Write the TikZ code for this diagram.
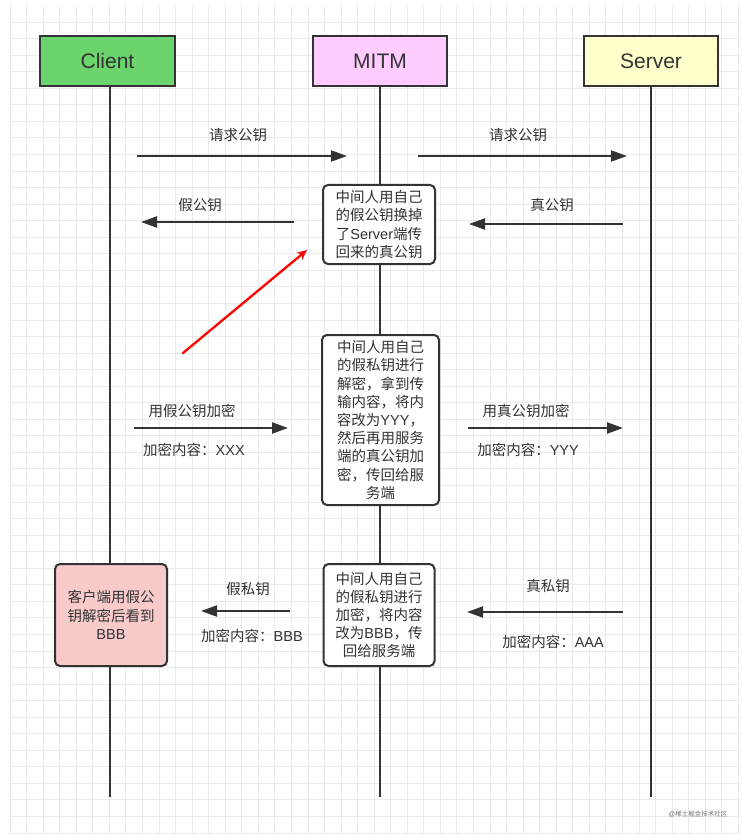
\documentclass[tikz,border=0pt]{standalone}
\usepackage{fontspec}
\setmainfont{Liberation Sans}
\newfontfamily\cjk{Noto Sans CJK SC}
\usetikzlibrary{arrows.meta}
\newcommand\lat[1]{{\rmfamily #1}}
\definecolor{ink}{HTML}{333333}
\definecolor{gridc}{HTML}{EBEBEB}
\definecolor{clientfill}{HTML}{6CD46C}
\definecolor{mitmfill}{HTML}{FFCCFF}
\definecolor{serverfill}{HTML}{FFFFCC}
\definecolor{notefill}{HTML}{F8CACA}
\tikzset{
  header/.style={draw=ink, line width=2pt, minimum width=134pt, minimum height=50pt,
    inner sep=0pt, text=ink, font=\fontsize{21}{25}\selectfont},
  process/.style={draw=ink, line width=2pt, rounded corners=5pt, fill=white,
    align=center, inner sep=0pt, text=ink, font=\cjk\fontsize{14.5}{18.2}\selectfont},
  lbl/.style={inner sep=0pt, text=ink, font=\cjk\fontsize{14.5}{18.2}\selectfont},
  lifeline/.style={draw=ink, line width=2.6pt},
  msg/.style={draw=ink, line width=2pt, -{Triangle[length=16pt, width=11pt]}},
  hint/.style={draw=red, line width=2.3pt, line cap=round, -{Stealth[length=10pt, width=9pt]}},
  gridline/.style={draw=gridc, line width=0.8pt}
}
\begin{document}
\begin{tikzpicture}[x=1pt, y=-1pt]
\useasboundingbox[fill=white] (0,0) rectangle (741,834);

% background grid
\foreach \i in {0,...,44} {
  \pgfmathsetmacro\gx{10+16.55*\i}
  \draw[gridline] (\gx,5) -- (\gx,834);
}
\foreach \k in {0,...,49} {
  \pgfmathsetmacro\gy{22+16.55*\k}
  \draw[gridline] (10,\gy) -- (741,\gy);
}

% participants
\node[header, fill=clientfill, minimum width=135pt] (client) at (107.5,61) {Client};
\node[header, fill=mitmfill] (mitm) at (380,61) {MITM};
\node[header, fill=serverfill] (server) at (651,61) {Server};

% lifeline ends
\coordinate (clientEnd) at (110,797);
\coordinate (mitmEnd) at (380,797);
\coordinate (serverEnd) at (651,797);
\draw[lifeline] (client.south -| clientEnd) -- (clientEnd);
\draw[lifeline] (mitm.south) -- (mitmEnd);
\draw[lifeline] (server.south) -- (serverEnd);

% processing boxes
\node[process, minimum width=112pt, minimum height=79pt] (swap) at (379,224.5)
  {中间人用自己\\的假公钥换掉\\了\lat{Server}端传\\回来的真公钥};
\node[process, minimum width=117pt, minimum height=170pt] (relay) at (380.5,420)
  {中间人用自己\\的假私钥进行\\解密，拿到传\\输内容，将内\\容改为\lat{YYY}，\\然后再用服务\\端的真公钥加\\密，传回给服\\务端};
\node[process, minimum width=111pt, minimum height=102pt] (reply) at (379,615)
  {中间人用自己\\的假私钥进行\\加密，将内容\\改为\lat{BBB}，传\\回给服务端};
\node[process, fill=notefill, minimum width=112pt, minimum height=102pt] (seen) at (111,615)
  {客户端用假公\\钥解密后看到\\\lat{BBB}};

% message end points
\coordinate (a1s) at (137,156);  \coordinate (a1e) at (347,156);
\coordinate (a2s) at (418,156);  \coordinate (a2e) at (627,156);
\coordinate (a3s) at (294,222);  \coordinate (a3e) at (141,222);
\coordinate (a4s) at (623,224);  \coordinate (a4e) at (469,224);
\coordinate (a5s) at (134,428);  \coordinate (a5e) at (288,428);
\coordinate (a6s) at (468,428);  \coordinate (a6e) at (623,428);
\coordinate (a7s) at (290,611);  \coordinate (a7e) at (201,611);
\coordinate (a8s) at (623,612);  \coordinate (a8e) at (467,612);
\coordinate (rs) at (183,353);   \coordinate (re) at (307,250);

% messages
\draw[msg] (a1s) -- (a1e);
\draw[msg] (a2s) -- (a2e);
\draw[msg] (a3s) -- (a3e);
\draw[msg] (a4s) -- (a4e);
\draw[msg] (a5s) -- (a5e);
\draw[msg] (a6s) -- (a6e);
\draw[msg] (a7s) -- (a7e);
\draw[msg] (a8s) -- (a8e);
\draw[hint] (rs) -- (re);

% message labels
\node[lbl] (l1) at (238,135) {请求公钥};
\node[lbl] (l2) at (518,135) {请求公钥};
\node[lbl] (l3) at (200,205) {假公钥};
\node[lbl] (l4) at (552,205) {真公钥};
\node[lbl] (l5) at (192,411) {用假公钥加密};
\node[lbl] (l5b) at (194,450) {加密内容：\lat{XXX}};
\node[lbl] (l6) at (526,411) {用真公钥加密};
\node[lbl] (l6b) at (528,450) {加密内容：\lat{YYY}};
\node[lbl] (l7) at (248,589) {假私钥};
\node[lbl] (l7b) at (252,636) {加密内容：\lat{BBB}};
\node[lbl] (l8) at (548,586) {真私钥};
\node[lbl] (l8b) at (553,642) {加密内容：\lat{AAA}};

% watermark
\node[inner sep=0pt, text=black!55, font=\cjk\fontsize{6.5}{8}\selectfont] (mark) at (698,814) {\lat{@}稀土掘金技术社区};
\end{tikzpicture}
\end{document}
